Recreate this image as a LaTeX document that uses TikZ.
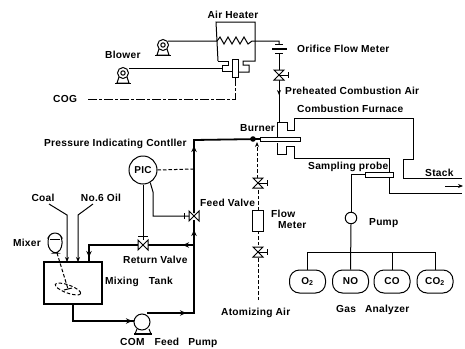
\documentclass[tikz,border=0pt]{standalone}
\usepackage{fontspec}
\setmainfont[LetterSpace=2.5]{Liberation Sans}
\usetikzlibrary{arrows.meta}
\tikzset{
  x=1pt,y=-1pt,
  thin line/.style={line width=1pt,black},
  thick line/.style={line width=1.8pt,black},
  dashline/.style={line width=1pt,dash pattern=on 3.5pt off 2pt},
  lab/.style={font=\fontsize{10.2}{12}\selectfont\bfseries,inner sep=0pt,text=black},
  analyzer/.style={draw,line width=1pt,rounded corners=10pt,minimum width=36pt,minimum height=23pt,inner sep=0pt,font=\fontsize{10}{10}\selectfont\bfseries},
  bigtip/.style={thick line,-{Stealth[length=6pt,width=5.5pt]}},
  smalltip/.style={thin line,-{Stealth[length=5pt,width=4pt]}},
}
\newcommand{\valveH}[2]{%
  \draw[thin line,fill=white] (#1-5,#2-5) -- (#1+5,#2+5) -- (#1+5,#2-5) -- (#1-5,#2+5) -- cycle;}
\newcommand{\valveV}[2]{%
  \draw[thin line,fill=white] (#1-5,#2-5) -- (#1+5,#2-5) -- (#1-5,#2+5) -- (#1+5,#2+5) -- cycle;
  \draw[thin line] (#1,#2) -- (#1+9,#2) (#1+9,#2-3) -- (#1+9,#2+3);}
\newcommand{\blowerat}[2]{%
  \draw[thin line,fill=white] (#1,#2) circle (5.5);
  \draw[thin line] (#1,#2) circle (2.2);
  \draw[thin line] (#1-4,#2+4) -- (#1-6,#2+10) -- (#1+6,#2+10) -- (#1+4,#2+4);
  \draw[line width=1.2pt] (#1-8,#2+10.5) -- (#1+8,#2+10.5);}
\begin{document}
\begin{tikzpicture}
\useasboundingbox (0,0) rectangle (465,348);
% labels
\node[lab] (l1) at (233,15) {Air Heater};
\node[lab,anchor=west] (l2) at (105,55) {Blower};
\node[lab,anchor=west] (l3) at (297,49) {Orifice Flow Meter};
\node[lab,anchor=west] (l4) at (53,99) {COG};
\node[lab,anchor=west] (l5) at (285,91) {Preheated Combustion Air};
\node[lab,anchor=west] (l6) at (297,109) {Combustion Furnace};
\node[lab,anchor=west] (l7) at (240,128) {Burner};
\node[lab,anchor=west] (l8) at (44,144) {Pressure Indicating Contller};
\node[lab,anchor=west] (l9) at (308,167) {Sampling probe};
\node[lab,anchor=west] (l10) at (425,173) {Stack};
\node[lab] (l11) at (43,198) {Coal};
\node[lab] (l12) at (101,198) {No.6 Oil};
\node[lab] (l13) at (27,243) {Mixer};
\node[lab,anchor=west] (l14) at (200,203) {Feed Valve};
\node[lab,anchor=west] (l15) at (123,260) {Return Valve};
\node[lab,anchor=west] (l16) at (105,282) {Mixing\hspace{7pt} Tank};
\node[lab,anchor=west] (l17) at (271,214) {Flow};
\node[lab,anchor=west] (l18) at (278,225) {Meter};
\node[lab,anchor=west] (l19) at (369,223) {Pump};
\node[lab,anchor=west] (l20) at (221,313) {Atomizing Air};
\node[lab,anchor=west] (l21) at (336,310) {Gas\hspace{6pt} Analyzer};
\node[lab,anchor=west] (l22) at (120,343) {COM\hspace{7pt} Feed\hspace{6pt} Pump};
% air heater
\draw[thin line] (218,61) -- (216,22) -- (255,22) -- (255,61) -- (243,61) -- (243,65) -- (249,65) -- (249,72) -- (238,72);
\draw[thin line] (218,61) -- (228,61) -- (228,65) -- (222,65) -- (222,71) -- (232,71);
\draw[thin line] (168,41) -- (217,41) -- (220,37) -- (224,44) -- (228,37) -- (232,44) -- (236,37) -- (240,44) -- (244,37) -- (248,44) -- (252,41) -- (279,41) -- (279,44);
\draw[thin line] (129,68) -- (222,68);
\draw[thin line,fill=white] (232,59) rectangle (238,77);
\blowerat{163}{45}
\blowerat{123}{73}
\draw[line width=1pt,dash pattern=on 9pt off 2pt on 3pt off 2pt] (235,77) -- (235,99) -- (88,99);
% orifice
\draw[thin line] (275,44) -- (283,44);
\draw[line width=1.2pt] (272,49) -- (287,49);
\draw[thin line] (275,53) -- (283,53);
\draw[thin line] (279,53) -- (279,122);
\valveV{279}{75}
\draw[smalltip] (279,88) -- (279,95);
% furnace and burner
\draw[thin line] (277,138) -- (277,122) -- (287,122) -- (287,130) -- (294,130) -- (294,118) -- (413,118) -- (413,159) -- (403,159) -- (403,178) -- (462,178);
\draw[thin line] (277,143) -- (277,154) -- (286,154) -- (286,146) -- (294,146) -- (294,158) -- (389,158) -- (389,193) -- (462,193);
\draw[smalltip] (445,186) -- (463,186);
% COM line
\draw[thick line] (194,213) -- (194,140) -- (260,139);
\draw[thick line] (194,220) -- (194,313) -- (147,313);
\draw[thick line] (194,245) -- (89,245) -- (89,262);
\draw[thick line] (73,304) -- (73,321) -- (134,321);
\draw[thin line,fill=white] (260,137) rectangle (300,141);
\fill (253,139) circle (2.8);
\valveH{194}{216}
\valveH{143}{245}
% tips on COM line
\draw[bigtip] (194,154) -- (194,146);
\draw[bigtip] (194,240) -- (194,230);
\draw[bigtip] (193,245) -- (183,245);
\draw[bigtip] (89,247) -- (89,257);
\draw[bigtip] (172,313) -- (186,313);
\draw[bigtip] (120,321) -- (132,321);
% PIC
\node[draw,circle,line width=1pt,minimum size=28pt,inner sep=0pt,font=\fontsize{10}{10}\selectfont\bfseries] (pic) at (143,170) {PIC};
\draw[thin line] (pic.south) -- (143,240) (138,236) -- (148,236);
\draw[thin line] (pic.-60) -- (153,192) -- (153,216) -- (189,216);
\draw[thin line] (184,213) -- (184,219);
\draw[dashline] (pic.east) -- (194,169);
% tank
\node[draw,line width=1.1pt,minimum width=58pt,minimum height=42pt] (tank) at (73,283) {};
\draw[smalltip] (49,204) -- (67,215) -- (67,262);
\draw[smalltip] (93,204) -- (78,215) -- (78,262);
% mixer
\draw[thin line,rounded corners=3.5pt] (48,238) -- (48,247) -- (53,253) -- (58,253) -- (62,247) -- (62,238) -- (59,233) -- (51,233) -- cycle;
\draw[thin line] (50,239) -- (60,239);
\draw[dashline] (57,253) -- (68,289);
\draw[dashline,rotate around={-20:(68,289)}] (68,289) ellipse (13.5 and 4);
\draw[thin line] (64,290) -- (72,288);
% pump
\draw[thin line] (137,329) -- (135,334) (149,329) -- (151,334);
\draw[line width=1.2pt] (134,334) -- (152,334);
\draw[thin line,fill=white] (142,322) circle (8);
% atomizing air
\draw[dashline] (258,300) -- (258,231);
\draw[dashline] (258,210) -- (258,190);
\draw[dashline,-{Stealth[length=5pt,width=4pt]}] (257,178) -- (257,142);
\draw[thin line,fill=white] (252,210) rectangle (263,231);
\valveV{258}{183}
\valveV{258}{252}
% sampling
\draw[thin line,fill=white] (365,172) rectangle (393,177);
\node[analyzer] (o2) at (307.5,281.5) {O\textsubscript{2}};
\node[analyzer] (no) at (350.5,281.5) {NO};
\node[analyzer] (co) at (392,281.5) {CO};
\node[analyzer] (co2) at (435,281.5) {CO\textsubscript{2}};
\node[draw,circle,line width=1pt,minimum size=11.5pt,inner sep=0pt] (sp) at (351,218) {};
\draw[thin line] (sp.north) -- (351,174) -- (365,174);
\draw[thin line] (sp.south) -- (no.north);
\draw[thin line] (o2.north) -- (307.5,252.5) -- (435,252.5) -- (co2.north);
\draw[thin line] (392,252.5) -- (co.north);
\end{tikzpicture}
\end{document}
